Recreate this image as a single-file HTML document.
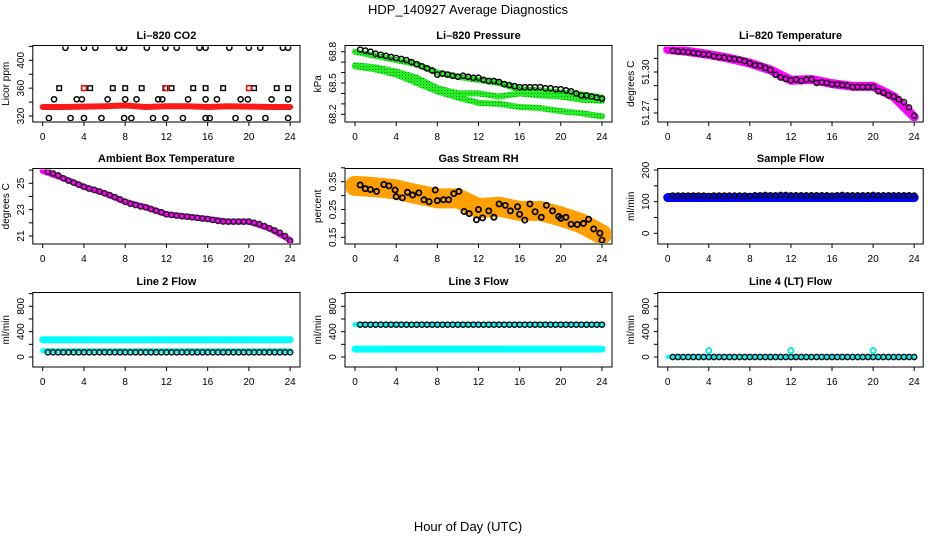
<!DOCTYPE html>
<html><head><meta charset="utf-8"><title>HDP_140927 Average Diagnostics</title>
<style>
html,body{margin:0;padding:0;background:#fff;}
svg{display:block;font-family:"Liberation Sans",Arial,sans-serif;}
</style></head>
<body>
<svg id="chart" width="936" height="540" viewBox="0 0 936 540" xmlns="http://www.w3.org/2000/svg">
<defs>
<pattern id="grpat" width="3" height="3" patternUnits="userSpaceOnUse">
<rect width="3" height="3" fill="#22ee22"/><rect width="1" height="1" fill="#117711"/>
</pattern>
</defs>
<text x="468" y="14" font-size="13" text-anchor="middle">HDP_140927  Average Diagnostics</text>
<text x="468" y="531" font-size="13" text-anchor="middle">Hour of Day (UTC)</text>
</svg>
<script>
// ---------- data ----------
const xTicks = [0,4,8,12,16,20,24];
// CO2
const co2Hours = [2.2,4,5.1,7.4,7.9,10.1,11.9,13,15.2,15.8,18.1,20,21.1,23.3,23.8,
  1.6,4,4.6,6.8,8,9.6,11.9,12.5,14.6,15.8,17.5,20,20.5,22.7,23.8,
  1.1,3.3,3.8,6.3,8,9.1,11.2,11.6,14.1,15.8,16.9,19.2,19.9,22.2,23.8,
  0.6,2.7,4,5.7,7.9,8.6,10.7,11.9,13.6,15.8,16.2,18.7,20,21.6,23.8];
const co2Values = [418,418,418,418,418,418,418,418,418,418,418,418,418,418,418,
  360,360,360,360,360,360,360,360,360,360,360,360,360,360,360,
  344,344,344,344,344,344,344,344,344,344,344,344,344,344,344,
  317,317,317,317,317,317,317,317,317,317,317,317,317,317,317];
const bandHours = [0,2,4,6,8,10,12,14,16,18,20,22,24];
const co2Band = [333,333,333.5,334,335,333,334,334,333,334,333.5,333,333];
const co2RedHours = [4,12,20];
const co2RedValues = [360,360,360];
// Pressure
const presBlack = [68.82,68.81,68.80,68.78,68.77,68.76,68.75,68.74,
  68.73,68.72,68.70,68.68,68.66,68.64,68.62,68.58,
  68.59,68.58,68.57,68.56,68.57,68.56,68.55,68.55,
  68.53,68.52,68.52,68.51,68.49,68.48,68.47,68.46,
  68.46,68.46,68.46,68.46,68.45,68.45,68.44,68.44,
  68.43,68.42,68.40,68.38,68.38,68.37,68.36,68.35];
const presG1 = [68.80,68.76,68.72,68.68,68.60,68.56,68.53,68.50,68.44,68.43,68.41,68.39,68.36];
const presG2 = [68.67,68.65,68.61,68.55,68.45,68.40,68.40,68.37,68.40,68.38,68.37,68.34,68.33];
const presG3 = [68.66,68.63,68.58,68.50,68.42,68.36,68.31,68.30,68.27,68.26,68.23,68.21,68.18];
// Li-820 temperature
const tempBlack = [51.3156,51.315,51.3148,51.3146,51.314,51.3135,51.313,51.3127,
  51.3115,51.311,51.3105,51.310,51.3095,51.309,51.308,51.3064,
  51.305,51.3045,51.303,51.3015,51.298,51.296,51.295,51.294,
  51.2945,51.2935,51.2945,51.2947,51.292,51.2925,51.292,51.291,
  51.291,51.2905,51.290,51.289,51.289,51.289,51.289,51.289,
  51.286,51.2849,51.283,51.282,51.280,51.278,51.274,51.268];
const tempBand = [51.3165,51.3150,51.3128,51.310,51.3065,51.3015,51.294,51.2945,51.2915,51.2895,51.2895,51.282,51.267];
// Ambient
const ambBlack = [25.9,25.75,25.6,25.38,25.2,25.05,24.9,24.74,
  24.6,24.5,24.38,24.24,24.1,23.95,23.78,23.6,
  23.45,23.35,23.25,23.18,23.05,22.92,22.8,22.65,
  22.6,22.55,22.5,22.47,22.42,22.38,22.33,22.29,
  22.22,22.15,22.1,22.09,22.09,22.09,22.09,22.09,
  22.0,21.91,21.75,21.58,21.42,21.25,21.0,20.62];
const ambBand = [25.94,25.38,24.74,24.24,23.6,23.18,22.65,22.47,22.29,22.09,22.09,21.58,20.7];
// RH
const rhHours = [0.5,1,1.5,2.1,2.8,3.3,3.9,4,4.6,5.1,5.6,6.2,6.7,7.2,7.8,8,8.6,9.1,9.6,10.1,10.6,11.1,11.8,12,12.4,13,13.5,14,14.6,15.1,15.8,16,16.5,17,17.5,18.1,18.6,19.2,19.8,20,20.5,21,21.6,22.2,22.7,23.2,23.8,24];
const rhValues = [0.338,0.325,0.322,0.315,0.340,0.335,0.320,0.296,0.292,0.312,0.302,0.310,0.285,0.278,0.320,0.282,0.285,0.285,0.307,0.315,0.243,0.235,0.213,0.250,0.220,0.245,0.222,0.270,0.265,0.245,0.260,0.233,0.212,0.270,0.242,0.222,0.265,0.245,0.225,0.218,0.222,0.197,0.196,0.200,0.215,0.180,0.165,0.140];
const rhBand = [0.335,0.33,0.322,0.305,0.29,0.29,0.255,0.26,0.245,0.245,0.225,0.2,0.16];
// Flows (half-hour samples 0.5..24)
const sampleBlack = [119,119,119,119,119,119,119,118,119,119,119,119,119,119,119,118,120,120,121,120,120,121,121,120,120,120,120,120,120,120,120,119,120,121,120,120,120,120,120,121,120,120,120,120,120,120,120,119];
const sampleBand = [113,113,113,113,113,113,113,113,113,113,113,113,113];
const line2Black = [75,75,75,75,75,75,75,75,75,75,75,75,75,75,75,75,75,75,75,75,75,75,75,75,75,75,75,75,75,75,75,75,75,75,75,75,75,75,75,75,75,75,75,75,75,75,75,75];
const line2Top = [273,273,273,273,273,273,273,273,273,273,273,273,273];
const line2Low = [98,98,98,98,98,98,98,98,98,98,98,98,98];
const line3Black = [510,510,510,510,510,510,510,510,510,510,510,510,510,510,510,510,510,510,510,510,510,510,510,510,510,510,510,510,510,510,510,510,510,510,510,510,510,510,510,510,510,510,510,510,510,510,510,510];
const line3Top = [510,510,510,510,510,510,510,510,510,510,510,510,510];
const line3Low = [125,125,125,125,125,125,125,125,125,125,125,125,125];
const line4Black = [0,0,0,0,0,0,0,0,0,0,0,0,0,0,0,0,0,0,0,0,0,0,0,0,0,0,0,0,0,0,0,0,0,0,0,0,0,0,0,0,0,0,0,0,0,0,0,0];
const line4Band = [0,0,0,0,0,0,0,0,0,0,0,0,0];
const line4CyanHours = [4,12,20];
const line4CyanValues = [100,100,100];
const flowTicks = [0,200,400,600,800,1000];
const flowLabels = [0,400,800];

// ---------- layout ----------
const NS = "http://www.w3.org/2000/svg";
const svg = document.getElementById('chart');
const cols = [{x0:42.7,k:10.31,l:32.8,r:300},{x0:355,k:10.29,l:345,r:612},{x0:667.7,k:10.27,l:657.8,r:923.2}];
const rows = [{t:45.5,b:122,title:35},{t:168.5,b:244,title:158},{t:292.5,b:367,title:281}];
function el(tag, attrs, parent){const e=document.createElementNS(NS,tag);for(const a in attrs)e.setAttribute(a,attrs[a]);(parent||svg).appendChild(e);return e;}
const halfHours = line4Black.map((v,i)=>0.5*(i+1));

function makePanel(name,title,ytitle,ci,ri,yv1,yp1,yv2,yp2,ticks,labels,fmt){
  const c=cols[ci], r=rows[ri];
  const g=el('g',{});
  
  
  const sx=h=>c.x0+h*c.k;
  const sy=v=>yp1+(v-yv1)*(yp2-yp1)/(yv2-yv1);
  const t=el('text',{x:(c.l+c.r)/2,y:r.title+4,'font-size':11,'font-weight':'bold','text-anchor':'middle'},g);
  t.textContent=title;
  
  
  const box=el('rect',{x:c.l,y:r.t,width:c.r-c.l,height:r.b-r.t,fill:'none',stroke:'#000','stroke-width':1},g);
  
  
  const xa=el('g',{},g);
  
  
  xTicks.forEach(h=>{
    el('line',{x1:sx(h),x2:sx(h),y1:r.b,y2:r.b+4,stroke:'#000'},xa);
    const tl=el('text',{x:sx(h),y:r.b+18,'font-size':10,'text-anchor':'middle'},xa);
    tl.textContent=h;
    
    
  });
  const ya=el('g',{},g);
  
  
  ticks.forEach(v=>{el('line',{x1:c.l,x2:c.l-4,y1:sy(v),y2:sy(v),stroke:'#000'},ya);});
  labels.forEach(v=>{
    const yy=sy(v), xx=c.l-9;
    const tl=el('text',{x:xx,y:yy,'font-size':10,'text-anchor':'middle',transform:`rotate(-90 ${xx} ${yy})`},ya);
    tl.textContent=fmt(v);
    
    
  });
  const yt=el('text',{x:c.l-24,y:(r.t+r.b)/2,'font-size':10,'text-anchor':'middle',transform:`rotate(-90 ${c.l-24} ${(r.t+r.b)/2})`},ya);
  yt.textContent=ytitle;
  
  
  const clipId='clip'+ci+ri;
  const cp=el('clipPath',{id:clipId},g); el('rect',{x:c.l+1,y:r.t+1,width:c.r-c.l-2,height:r.b-r.t-2},cp);
  const marks=el('g',{'clip-path':`url(#${clipId})`},g);
  
  
  return {sx,sy,marks};
}
function band(p,hours,vals,color,w,name){
  const pl=el('polyline',{points:hours.map((h,i)=>p.sx(h)+','+p.sy(vals[i])).join(' '),fill:'none',stroke:color,'stroke-width':w,'stroke-linecap':'round','stroke-linejoin':'round'},p.marks);
  
  
}
function circles(p,hours,vals,color,name,sw){
  hours.forEach((h,i)=>{
    const cc=el('circle',{cx:p.sx(h),cy:p.sy(vals[i]),r:2.6,fill:'none',stroke:color,'stroke-width':sw||1.5},p.marks);
    
    
  });
}
function squares(p,hours,vals,color,name){
  hours.forEach((h,i)=>{
    const s=el('rect',{x:p.sx(h)-2.3,y:p.sy(vals[i])-2.3,width:4.6,height:4.6,fill:'none',stroke:color,'stroke-width':1.4},p.marks);
    
    
  });
}
const f0=v=>String(v), f1=v=>v.toFixed(1), f2=v=>v.toFixed(2);

let p=makePanel('co2','Li\u2013820 CO2','Licor ppm',0,0,320,116,400,60.3,[320,340,360,380,400,420],[320,360,400],f0);
band(p,bandHours,co2Band,'#ff1a1a',6,'co2-band');
circles(p,co2Hours.slice(0,15),co2Values.slice(0,15),'#000','co2-point');
squares(p,co2Hours.slice(15,30),co2Values.slice(15,30),'#000','co2-point');
circles(p,co2Hours.slice(30),co2Values.slice(30),'#000','co2-point');
circles(p,co2RedHours,co2RedValues,'#ff1a1a','co2-red-point');

p=makePanel('pressure','Li\u2013820 Pressure','kPa',1,0,68.2,114.3,68.8,51.7,[68.2,68.3,68.4,68.5,68.6,68.7,68.8],[68.2,68.5,68.8],f1);
band(p,bandHours,presG3,'url(#grpat)',6,'pressure-band-low');
band(p,bandHours,presG2,'url(#grpat)',6,'pressure-band-mid');
band(p,bandHours,presG1,'url(#grpat)',6,'pressure-band-high');
circles(p,halfHours,presBlack,'#000','pressure-point');

p=makePanel('li820-temp','Li\u2013820 Temperature','degrees C',2,0,51.27,113,51.30,72,[51.27,51.28,51.29,51.30,51.31],[51.27,51.30],f2);
band(p,bandHours,tempBand,'#ff00ff',9,'li820-temp-band');
circles(p,halfHours,tempBlack,'#111','li820-temp-point');

p=makePanel('ambient-temp','Ambient Box Temperature','degrees C',0,1,21,236,25,183.3,[21,22,23,24,25,26],[21,23,25],f0);
band(p,bandHours,ambBand,'#ff00ff',6,'ambient-temp-band');
circles(p,halfHours,ambBlack,'#222','ambient-temp-point');

p=makePanel('gas-rh','Gas Stream RH','percent',1,1,0.15,237.3,0.35,181.7,[0.15,0.2,0.25,0.3,0.35,0.4],[0.15,0.25,0.35],f2);
band(p,bandHours,rhBand,'#ffa000',20,'gas-rh-band');
circles(p,rhHours,rhValues,'#000','gas-rh-point',1.8);

p=makePanel('sample-flow','Sample Flow','ml/min',2,1,0,233.3,200,170,[0,50,100,150,200],[0,100,200],f0);
band(p,bandHours,sampleBand,'#0000ff',9,'sample-flow-band');
circles(p,halfHours,sampleBlack,'#111','sample-flow-point');

p=makePanel('line2-flow','Line 2 Flow','ml/min',0,2,0,357,800,306.3,flowTicks,flowLabels,f0);
band(p,bandHours,line2Top,'#00ffff',7,'line2-flow-band');
band(p,bandHours,line2Low,'#00ffff',5,'line2-flow-band-low');
circles(p,halfHours,line2Black,'#111','line2-flow-point');

p=makePanel('line3-flow','Line 3 Flow','ml/min',1,2,0,357,800,306.3,flowTicks,flowLabels,f0);
band(p,bandHours,line3Low,'#00ffff',7,'line3-flow-band');
band(p,bandHours,line3Top,'#00ffff',5,'line3-flow-band-top');
circles(p,halfHours,line3Black,'#111','line3-flow-point');

p=makePanel('line4-flow','Line 4 (LT) Flow','ml/min',2,2,0,357,800,306.3,flowTicks,flowLabels,f0);
band(p,bandHours,line4Band,'#00ffff',4,'line4-flow-band');
circles(p,halfHours,line4Black,'#111','line4-flow-point');
circles(p,line4CyanHours,line4CyanValues,'#00e5e5','line4-flow-cyan-point',1.8);
</script>
</body></html>
